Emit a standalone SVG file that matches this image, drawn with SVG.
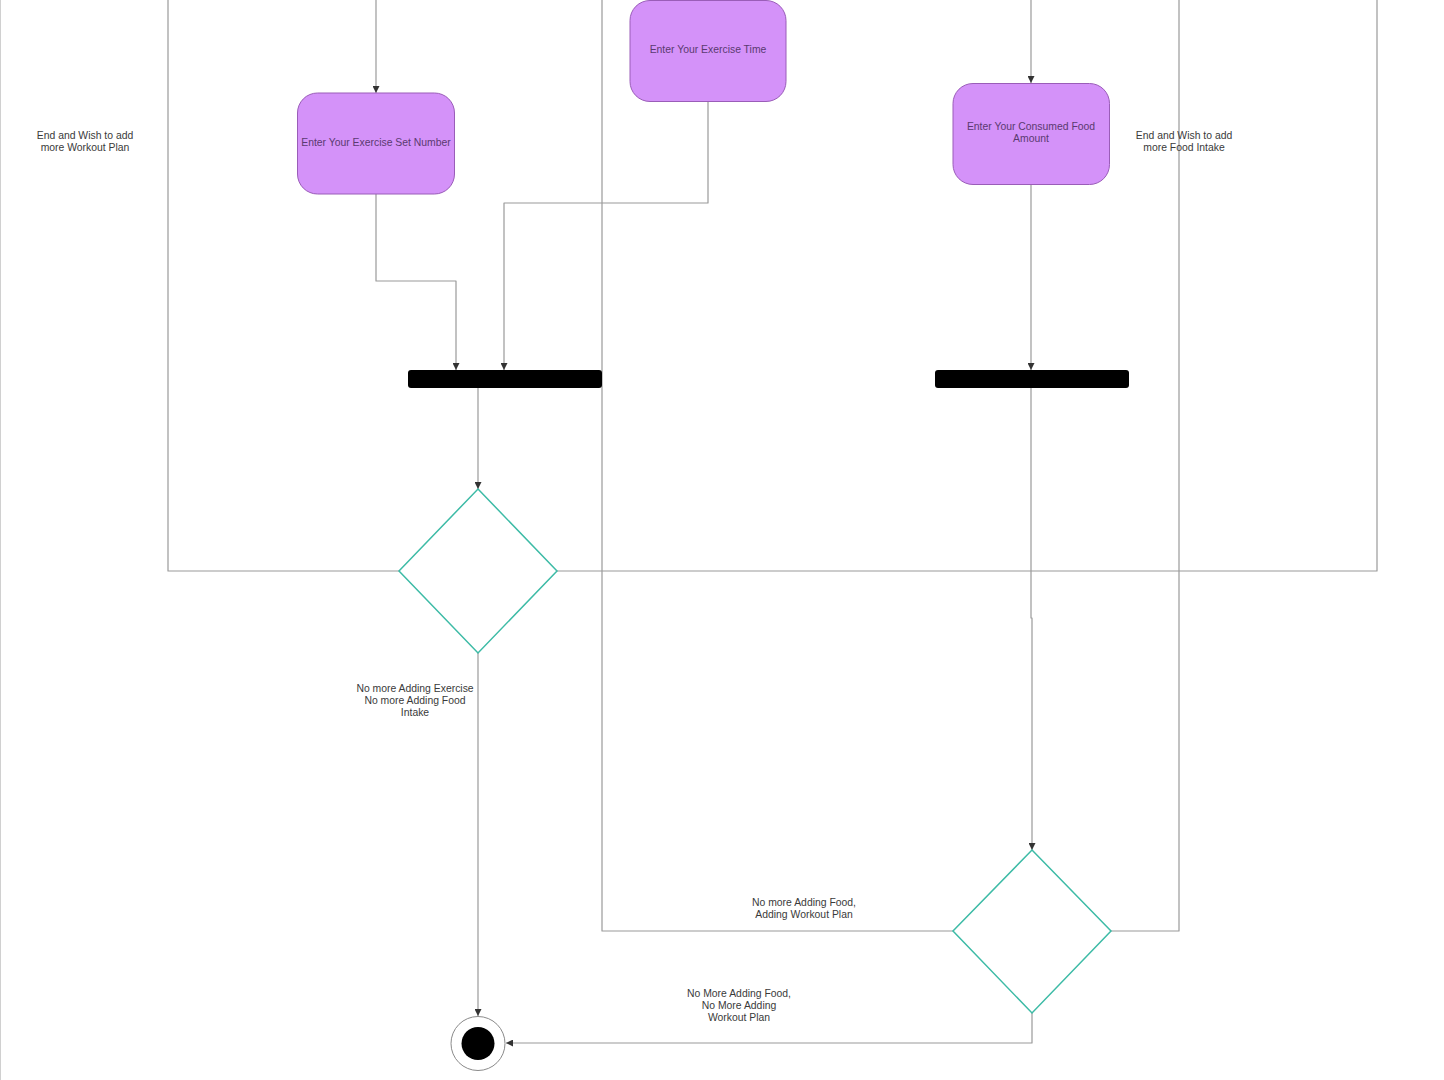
<svg xmlns="http://www.w3.org/2000/svg" width="1444" height="1080" viewBox="0 0 1444 1080">
<defs>
<marker id="arr" viewBox="0 0 10 10" refX="10" refY="5" markerWidth="7" markerHeight="7" markerUnits="userSpaceOnUse" orient="auto">
<path d="M0,0 L10,5 L0,10 z" fill="#333"/>
</marker>
<style>
.c{fill:none;stroke:#9a9a9a;stroke-width:1.2;stroke-linejoin:round}
.a{marker-end:url(#arr)}
.act{fill:#d492f9;stroke:#9a5db8;stroke-width:1}
.at{font-family:"Liberation Sans",Arial,sans-serif;font-size:10.4px;fill:#5a3a70;text-anchor:middle}
.lt{font-family:"Liberation Sans",Arial,sans-serif;font-size:10.4px;fill:#3a3a3a;text-anchor:middle}
.bar{fill:#000}
.dec{fill:#fff;stroke:#3dbba6;stroke-width:1.5}
</style>
</defs>
<rect x="0" y="0" width="1444" height="1080" fill="#fff"/>
<line x1="0.5" y1="0" x2="0.5" y2="1080" stroke="#d0d0d0" stroke-width="1"/>
<g id="connectors">
<path class="c a" d="M376,0 V93"/>
<path class="c a" d="M376,194 V281 H456 V370"/>
<path class="c a" d="M708,101 V203 H504 V370"/>
<path class="c a" d="M1031,0 V83"/>
<path class="c a" d="M1031,184 V370"/>
<path class="c a" d="M478,387 V489"/>
<path class="c a" d="M1031,387 V618 H1032 V850"/>
<path class="c" d="M399,571 H168 V0"/>
<path class="c" d="M557,571 H1377 V0"/>
<path class="c a" d="M478,653 V1016"/>
<path class="c" d="M953,931 H602 V0"/>
<path class="c" d="M1111,931 H1179 V0"/>
<path class="c a" d="M1032,1013 V1043 H506"/>
</g>
<g id="labels">
<text class="lt" x="85" y="139">End and Wish to add</text>
<text class="lt" x="85" y="151">more Workout Plan</text>
<text class="lt" x="1184" y="139">End and Wish to add</text>
<text class="lt" x="1184" y="151">more Food Intake</text>
<text class="lt" x="415" y="692">No more Adding Exercise</text>
<text class="lt" x="415" y="704">No more Adding Food</text>
<text class="lt" x="415" y="716">Intake</text>
<text class="lt" x="804" y="906">No more Adding Food,</text>
<text class="lt" x="804" y="918">Adding Workout Plan</text>
<text class="lt" x="739" y="997">No More Adding Food,</text>
<text class="lt" x="739" y="1009">No More Adding</text>
<text class="lt" x="739" y="1021">Workout Plan</text>
</g>
<g id="set-number">
<rect class="act" x="297.5" y="93" width="157" height="101" rx="20"/>
<text class="at" x="376" y="145.5">Enter Your Exercise Set Number</text>
</g>
<g id="exercise-time">
<rect class="act" x="630" y="0.5" width="156" height="101" rx="20"/>
<text class="at" x="708" y="53">Enter Your Exercise Time</text>
</g>
<g id="consumed-food">
<rect class="act" x="953" y="83.5" width="156.5" height="101" rx="20"/>
<text class="at" x="1031" y="130">Enter Your Consumed Food</text>
<text class="at" x="1031" y="142">Amount</text>
</g>
<g id="join-exercise">
<rect class="bar" x="408" y="370" width="194" height="18" rx="3"/>
</g>
<g id="join-food">
<rect class="bar" x="935" y="370" width="194" height="18" rx="3"/>
</g>
<g id="decision-workout">
<polygon class="dec" points="478,489 557,571 478,653 399,571"/>
</g>
<g id="decision-food">
<polygon class="dec" points="1032,850 1111,931 1032,1013 953,931"/>
</g>
<g id="final">
<circle cx="478" cy="1043.5" r="27" fill="#fff" stroke="#8a8a8a" stroke-width="1"/>
<circle cx="478" cy="1043.5" r="16.5" fill="#000"/>
</g>
</svg>
